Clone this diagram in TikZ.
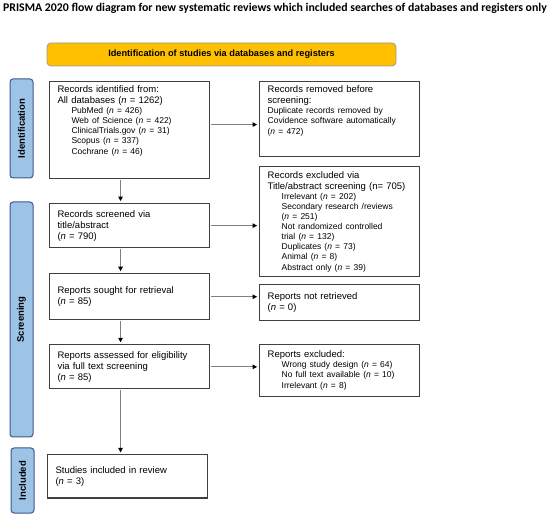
\documentclass[tikz,border=0pt]{standalone}
\usepackage{fontspec}
\setmainfont{Liberation Sans}
\newfontfamily\titlefont{Carlito}
\usetikzlibrary{positioning,arrows.meta}
\definecolor{sideblue}{RGB}{157,195,230}
\definecolor{sideedge}{RGB}{60,90,135}
\definecolor{headyellow}{RGB}{255,192,0}
\newcommand{\ind}{\hspace*{14pt}}
\newcommand{\subsz}{\fontsize{8.5}{10}\selectfont}

\begin{document}
\begin{tikzpicture}[
  x=1pt, y=-1pt,
  font=\fontsize{9.5}{11}\selectfont,
  node distance=24pt,
  box/.style={rectangle,draw=black!75,line width=1.1pt,fill=white,
              text width=144pt,align=left,inner xsep=8pt,inner ysep=4pt},
  side/.style={rectangle,rounded corners=3pt,draw=sideedge,line width=1pt,fill=sideblue,
               rotate=90,minimum height=23pt,font=\fontsize{9.5}{11}\selectfont\bfseries},
  head/.style={rectangle,rounded corners=4pt,draw=black!40,line width=0.8pt,fill=headyellow,
               minimum width=349pt,minimum height=23pt,font=\fontsize{9.2}{11}\selectfont\bfseries},
  arr/.style={-{Triangle[length=4.5pt,width=4.5pt,black]},line width=0.9pt,black!50,
              shorten <=1pt,shorten >=2pt},
]
\useasboundingbox (0,0) rectangle (550,516);

\node[font=\titlefont\fontsize{11.8}{14}\selectfont\bfseries] (title) at (275,8.5)
   {PRISMA 2020 flow diagram for new systematic reviews which included searches of databases and registers only};
\node[head] (hdr) at (221.5,54.5) {Identification of studies via databases and registers};

% phase bars
\node[side,minimum width=99pt] (sid) at (21.5,128.5) {Identification};
\node[side,minimum width=235pt] (sscr) at (21.5,319.5) {Screening};
\node[side,minimum width=65pt] (sinc) at (22.5,480.5) {Included};

% left column
\node[box,anchor=north west,text height=7pt,text depth=82pt] (ident) at (49,81)
   {Records identified from:\\All databases (\textit{n} = 1262)\\
    \subsz\ind PubMed (\textit{n} = 426)\\\ind Web of Science (\textit{n} = 422)\\
    \ind ClinicalTrials.gov (\textit{n} = 31)\\\ind Scopus (\textit{n} = 337)\\
    \ind Cochrane (\textit{n} = 46)};
\node[box,below=24pt of ident,minimum height=44pt] (screened)
   {Records screened via\\title/abstract\\(\textit{n} = 790)};
\node[box,below=25pt of screened,minimum height=46pt] (sought)
   {Reports sought for retrieval\\(\textit{n} = 85)};
\node[box,below=24pt of sought,minimum height=44pt] (assessed)
   {Reports assessed for eligibility\\via full text screening\\(\textit{n} = 85)};
\node[box,below=65pt of assessed,xshift=-2pt,minimum height=43pt] (included)
   {Studies included in review\\(\textit{n} = 3)};

% right column
\node[box,right=49pt of ident.north east,anchor=north west,text height=7pt,text depth=60pt] (removed)
   {Records removed before\\screening:\\\subsz Duplicate records removed by\\
    Covidence software automatically\\(\textit{n} = 472)};
\node[box,below=9pt of removed,minimum height=110pt] (excluded)
   {Records excluded via\\Title/abstract screening (n= 705)\\
    \subsz\ind Irrelevant (\textit{n} = 202)\\\ind Secondary research /reviews\\
    \ind (\textit{n} = 251)\\\ind Not randomized controlled\\\ind trial (\textit{n} = 132)\\
    \ind Duplicates (\textit{n} = 73)\\\ind Animal (\textit{n} = 8)\\\ind Abstract only (\textit{n} = 39)};
\node[box,below=7pt of excluded,minimum height=36pt] (notret)
   {Reports not retrieved\\(\textit{n} = 0)};
\node[box,below=23pt of notret,minimum height=52pt] (repexcl)
   {Reports excluded:\\\subsz\ind Wrong study design (\textit{n} = 64)\\
    \ind No full text available (\textit{n} = 10)\\\ind Irrelevant (\textit{n} = 8)};

\draw[arr] ([xshift=-9pt]ident.south) -- ([xshift=-9pt]screened.north);
\draw[arr] ([xshift=-9pt]screened.south) -- ([xshift=-9pt]sought.north);
\draw[arr] ([xshift=-9pt]sought.south) -- ([xshift=-9pt]assessed.north);
\draw[arr] ([xshift=-9pt]assessed.south) -- ([xshift=-7pt]included.north);

\coordinate (a1) at ([yshift=5.5pt]ident.east);
\draw[arr] (a1) -- (a1 -| removed.west);
\draw[arr] (screened.east) -- (screened.east -| excluded.west);
\draw[arr] (sought.east) -- (sought.east -| notret.west);
\draw[arr] (assessed.east) -- (assessed.east -| repexcl.west);
\end{tikzpicture}
\end{document}
